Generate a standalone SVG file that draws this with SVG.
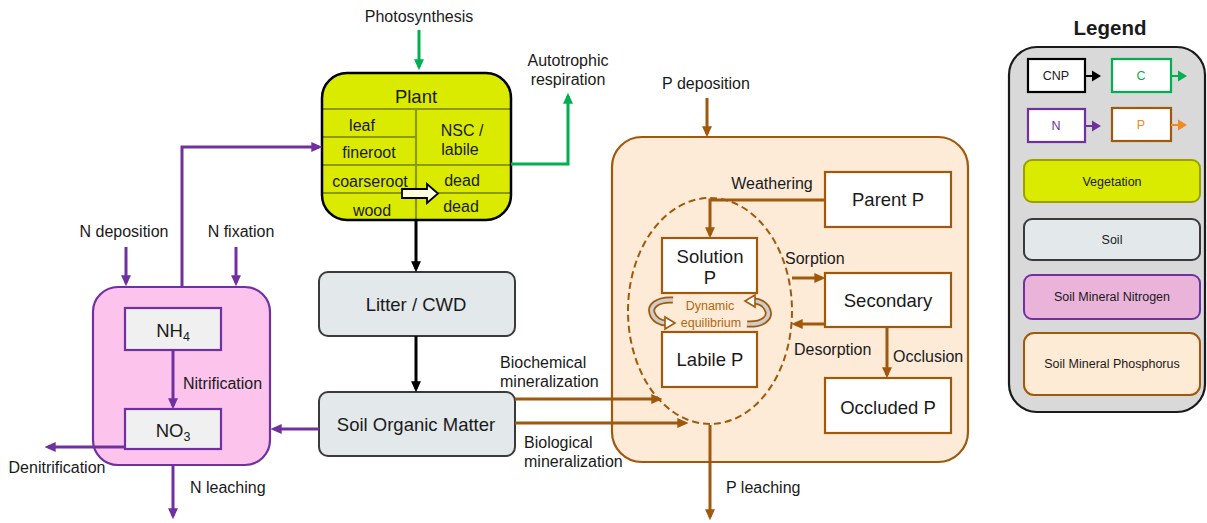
<svg xmlns="http://www.w3.org/2000/svg" width="1207" height="523" viewBox="0 0 1207 523">
  <defs>
    <style>
      text { font-family: "Liberation Sans", Arial, sans-serif; fill: #1a1a1a; }
      .lbl { font-size: 16px; }
      .box { font-size: 18.5px; }
      .sub { font-size: 16px; }
      .leg { font-size: 12.5px; }
      .mid { text-anchor: middle; }
      .c-black { stroke: #000; stroke-width: 3; fill: none; }
      .c-green { stroke: #00b050; stroke-width: 3; fill: none; }
      .c-purple { stroke: #7030a0; stroke-width: 3; fill: none; }
      .c-brown { stroke: #a0590b; stroke-width: 3; fill: none; }
      .soil { fill: #e3e8eb; stroke: #3a3a3a; stroke-width: 2; }
      .pbox { fill: #ffffff; stroke: #a0590b; stroke-width: 2.2; }
      .nbox { fill: #f0f0f0; stroke: #7030a0; stroke-width: 2.2; }
      .pdiv { stroke: #8c9a00; stroke-width: 2.2; }
      .curl-out { fill: none; stroke: #a0590b; stroke-width: 7; }
      .curl-in { fill: none; stroke: #cdcdcd; stroke-width: 3.5; }
    </style>
    <marker id="ah-black" markerUnits="userSpaceOnUse" viewBox="0 0 10 10" markerWidth="11" markerHeight="11" refX="7" refY="5" orient="auto"><path d="M0,0.5 L10,5 L0,9.5 Z" fill="#000"/></marker>
    <marker id="ah-green" markerUnits="userSpaceOnUse" viewBox="0 0 10 10" markerWidth="11" markerHeight="11" refX="7" refY="5" orient="auto"><path d="M0,0.5 L10,5 L0,9.5 Z" fill="#00b050"/></marker>
    <marker id="ah-purple" markerUnits="userSpaceOnUse" viewBox="0 0 10 10" markerWidth="11" markerHeight="11" refX="7" refY="5" orient="auto"><path d="M0,0.5 L10,5 L0,9.5 Z" fill="#7030a0"/></marker>
    <marker id="ah-brown" markerUnits="userSpaceOnUse" viewBox="0 0 10 10" markerWidth="11" markerHeight="11" refX="7" refY="5" orient="auto"><path d="M0,0.5 L10,5 L0,9.5 Z" fill="#a0590b"/></marker>
    <g id="curl">
      <path class="curl-out" d="M673,300 C656,299 650,307 652,313 C654,320 661,323 666,323"/>
      <path class="curl-in" d="M673,300 C656,299 650,307 652,313 C654,320 661,323 666,323"/>
      <polygon points="665,317 675,323 665,329" fill="#ffffff" stroke="#a0590b" stroke-width="1.6"/>
    </g>
  </defs>

  <rect width="1207" height="523" fill="#ffffff"/>

  <!-- Soil mineral phosphorus pool -->
  <g id="soil-mineral-p">
    <rect x="612" y="137" width="356" height="325" rx="30" fill="#fdebd7" stroke="#a0590b" stroke-width="2.2"/>
    <ellipse cx="710" cy="311" rx="82" ry="113" fill="none" stroke="#a0590b" stroke-width="2" stroke-dasharray="7 4"/>
  </g>

  <!-- Plant -->
  <g id="plant">
    <rect x="322" y="73" width="189" height="147" rx="25" fill="#dbeb00"/>
    <line class="pdiv" x1="323" y1="109" x2="510" y2="109"/>
    <line class="pdiv" x1="323" y1="137" x2="416" y2="137"/>
    <line class="pdiv" x1="323" y1="165" x2="510" y2="165"/>
    <line class="pdiv" x1="323" y1="193" x2="510" y2="193"/>
    <line class="pdiv" x1="416" y1="109" x2="416" y2="219"/>
    <rect x="322" y="73" width="189" height="147" rx="25" fill="none" stroke="#000" stroke-width="2.5"/>
    <text class="box mid" x="416" y="103">Plant</text>
    <text class="sub mid" x="362" y="131">leaf</text>
    <text class="sub mid" x="369" y="158">fineroot</text>
    <text class="sub mid" x="370" y="187">coarseroot</text>
    <text class="sub mid" x="372" y="216">wood</text>
    <text class="sub mid" x="462" y="136">NSC /</text>
    <text class="sub mid" x="460" y="155">labile</text>
    <text class="sub mid" x="462" y="186">dead</text>
    <text class="sub mid" x="461" y="212">dead</text>
    <polygon points="402,189 427,189 427,184 438,193.5 427,203 427,198 402,198" fill="#ffffe0" stroke="#000" stroke-width="1.8"/>
  </g>

  <!-- Litter / CWD -->
  <g id="litter">
    <rect class="soil" x="319" y="272" width="196" height="64" rx="9"/>
    <text class="box mid" x="416" y="311">Litter / CWD</text>
  </g>

  <!-- Soil organic matter -->
  <g id="som">
    <rect class="soil" x="319" y="392" width="196" height="64" rx="9"/>
    <text class="box mid" x="416" y="431">Soil Organic Matter</text>
  </g>

  <!-- Soil mineral nitrogen pool -->
  <g id="soil-mineral-n">
    <rect x="93" y="287" width="177" height="178" rx="25" fill="#fcc4ec" stroke="#7030a0" stroke-width="2.2"/>
  </g>
  <g id="nh4">
    <rect class="nbox" x="125" y="308" width="96" height="42"/>
    <text class="box mid" x="173" y="337">NH<tspan font-size="12.5" dy="4">4</tspan></text>
  </g>
  <g id="no3">
    <rect class="nbox" x="125" y="409" width="96" height="40"/>
    <text class="box mid" x="173" y="437">NO<tspan font-size="12.5" dy="4">3</tspan></text>
  </g>

  <!-- Phosphorus pools -->
  <g id="parent-p">
    <rect class="pbox" x="825" y="172" width="126" height="55"/>
    <text class="box mid" x="888" y="206">Parent P</text>
  </g>
  <g id="solution-p">
    <rect class="pbox" x="662" y="238" width="95" height="55"/>
    <text class="box mid" x="710" y="263">Solution</text>
    <text class="box mid" x="710" y="284">P</text>
  </g>
  <g id="labile-p">
    <rect class="pbox" x="662" y="332" width="95" height="55"/>
    <text class="box mid" x="710" y="366">Labile P</text>
  </g>
  <g id="secondary-p">
    <rect class="pbox" x="825" y="273" width="126" height="54"/>
    <text class="box mid" x="888" y="307">Secondary</text>
  </g>
  <g id="occluded-p">
    <rect class="pbox" x="825" y="378" width="126" height="55"/>
    <text class="box mid" x="888" y="414">Occluded P</text>
  </g>

  <!-- Exchange between solution and labile P -->
  <g id="equilibrium">
    <use href="#curl"/>
    <use href="#curl" transform="rotate(180 710 312)"/>
    <text class="mid" x="710" y="310" font-size="12.5" style="fill:#b0670f">Dynamic</text>
    <text class="mid" x="711" y="327" font-size="12.5" style="fill:#b0670f">equilibrium</text>
  </g>

  <!-- Fluxes -->
  <g id="connectors">
    <path class="c-black" d="M416,220 V269" marker-end="url(#ah-black)"/>
    <path class="c-black" d="M416,336 V389" marker-end="url(#ah-black)"/>

    <path class="c-green" d="M419,30 V67" marker-end="url(#ah-green)"/>
    <path class="c-green" d="M511,164 H568 V96" marker-end="url(#ah-green)"/>

    <path class="c-purple" d="M182,287 V147 H319" marker-end="url(#ah-purple)"/>
    <path class="c-purple" d="M126,247 V283" marker-end="url(#ah-purple)"/>
    <path class="c-purple" d="M236,247 V283" marker-end="url(#ah-purple)"/>
    <path class="c-purple" d="M319,429 H274" marker-end="url(#ah-purple)"/>
    <path class="c-purple" d="M173,350 V406" marker-end="url(#ah-purple)"/>
    <path class="c-purple" d="M125,447 H48" marker-end="url(#ah-purple)"/>
    <path class="c-purple" d="M173,465 V516" marker-end="url(#ah-purple)"/>

    <path class="c-brown" d="M707,98 V134" marker-end="url(#ah-brown)"/>
    <path class="c-brown" d="M515,399 H659" marker-end="url(#ah-brown)"/>
    <path class="c-brown" d="M515,423 H685" marker-end="url(#ah-brown)"/>
    <path class="c-brown" d="M825,200 H710 V235" marker-end="url(#ah-brown)"/>
    <path class="c-brown" d="M792,278 H822" marker-end="url(#ah-brown)"/>
    <path class="c-brown" d="M825,324 H795" marker-end="url(#ah-brown)"/>
    <path class="c-brown" d="M887,327 V375" marker-end="url(#ah-brown)"/>
    <path class="c-brown" d="M710,425 V517" marker-end="url(#ah-brown)"/>
  </g>

  <!-- Flux labels -->
  <g id="labels">
    <text class="lbl mid" x="419" y="22">Photosynthesis</text>
    <text class="lbl mid" x="568" y="66">Autotrophic</text>
    <text class="lbl mid" x="568" y="85">respiration</text>
    <text class="lbl mid" x="706" y="89">P deposition</text>
    <text class="lbl mid" x="772" y="189">Weathering</text>
    <text class="lbl" x="785" y="264">Sorption</text>
    <text class="lbl" x="794" y="355">Desorption</text>
    <text class="lbl" x="893" y="362">Occlusion</text>
    <text class="lbl" x="500" y="368">Biochemical</text>
    <text class="lbl" x="500" y="387">mineralization</text>
    <text class="lbl" x="524" y="448">Biological</text>
    <text class="lbl" x="524" y="467">mineralization</text>
    <text class="lbl" x="726" y="493">P leaching</text>
    <text class="lbl mid" x="124" y="237">N deposition</text>
    <text class="lbl mid" x="241" y="237">N fixation</text>
    <text class="lbl" x="183" y="389">Nitrification</text>
    <text class="lbl mid" x="57" y="473">Denitrification</text>
    <text class="lbl" x="190" y="493">N leaching</text>
  </g>

  <!-- Legend -->
  <g id="legend">
    <text class="mid" x="1110" y="35" font-size="20.5" font-weight="bold">Legend</text>
    <rect x="1009" y="47" width="196" height="365" rx="28" fill="#d9d9d9" stroke="#1a1a1a" stroke-width="2.2"/>

    <rect x="1028" y="59" width="57" height="33" fill="#fff" stroke="#000" stroke-width="2.2"/>
    <text class="leg mid" x="1056" y="80">CNP</text>
    <path d="M1085,76 H1094" stroke="#000" stroke-width="2" fill="none"/>
    <path d="M1092,70.5 L1101,76 L1092,81.5 Z" fill="#000"/>

    <rect x="1112" y="59" width="59" height="33" fill="#fff" stroke="#00b050" stroke-width="2.2"/>
    <text class="leg mid" x="1141" y="80" style="fill:#00b050">C</text>
    <path d="M1171,76 H1180" stroke="#00b050" stroke-width="2" fill="none"/>
    <path d="M1178,70.5 L1187,76 L1178,81.5 Z" fill="#00b050"/>

    <rect x="1028" y="109" width="57" height="33" fill="#fff" stroke="#7030a0" stroke-width="2.2"/>
    <text class="leg mid" x="1056" y="130" style="fill:#7030a0">N</text>
    <path d="M1085,126 H1094" stroke="#7030a0" stroke-width="2" fill="none"/>
    <path d="M1092,120.5 L1101,126 L1092,131.5 Z" fill="#7030a0"/>

    <rect x="1112" y="108" width="59" height="33" fill="#fff" stroke="#a0590b" stroke-width="2.2"/>
    <text class="leg mid" x="1141" y="129" style="fill:#f08a1c">P</text>
    <path d="M1171,125 H1180" stroke="#f08a1c" stroke-width="2" fill="none"/>
    <path d="M1178,119.5 L1187,125 L1178,130.5 Z" fill="#f08a1c"/>

    <rect x="1024" y="160" width="176" height="42" rx="8" fill="#dbeb00" stroke="#9aa000" stroke-width="2"/>
    <text class="leg mid" x="1112" y="186">Vegetation</text>

    <rect x="1024" y="219" width="176" height="41" rx="8" fill="#e3e8eb" stroke="#3a3a3a" stroke-width="2"/>
    <text class="leg mid" x="1112" y="244">Soil</text>

    <rect x="1024" y="275" width="176" height="44" rx="8" fill="#eab3d9" stroke="#7030a0" stroke-width="2"/>
    <text class="leg mid" x="1112" y="301">Soil Mineral Nitrogen</text>

    <rect x="1024" y="333" width="176" height="62" rx="10" fill="#feebd6" stroke="#a0590b" stroke-width="2"/>
    <text class="leg mid" x="1112" y="368">Soil Mineral Phosphorus</text>
  </g>
</svg>
